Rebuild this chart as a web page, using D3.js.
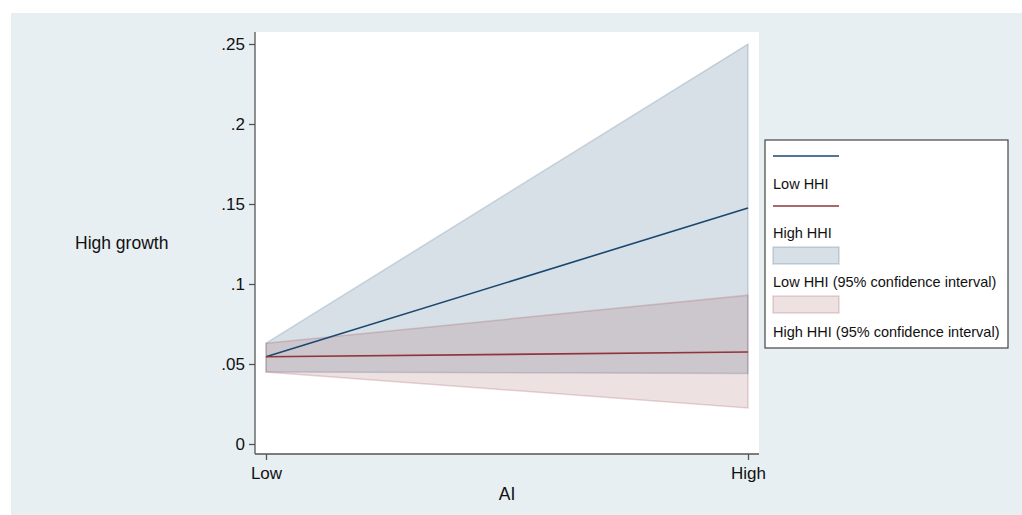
<!DOCTYPE html>
<html>
<head>
<meta charset="utf-8">
<script src="https://cdn.jsdelivr.net/npm/d3@7"></script>
<style>
  body { margin: 0; background: #fff; }
  svg { display: block; font-family: "Liberation Sans", Arial, sans-serif; }
</style>
</head>
<body>
<svg id="chart" width="1022" height="515"></svg>
<script>
// x categories and y ticks
const xLabels = ['Low', 'High'];
const yTicks = [0, 0.05, 0.1, 0.15, 0.2, 0.25];
const yTickLabels = ['0', '.05', '.1', '.15', '.2', '.25'];

// predicted values per HHI group
const lowHHI = [0.0545, 0.1475];
const highHHI = [0.0545, 0.0575];
const lowHHIci = [[0.045, 0.063], [0.0440, 0.250]];
const highHHIci = [[0.045, 0.063], [0.0225, 0.093]];

const legendLabels = ['Low HHI', 'High HHI', 'Low HHI (95% confidence interval)', 'High HHI (95% confidence interval)'];

const blue = '#1a476f';
const red = '#90353b';

const svg = d3.select('#chart');

// outer stata background
svg.append('rect')
  .attr('x', 11).attr('y', 13)
  .attr('width', 1011).attr('height', 502)
  .attr('fill', '#e8eff2');

const plot = { left: 255, right: 759, top: 32, bottom: 454 };

svg.append('rect')
  .attr('x', plot.left).attr('y', plot.top)
  .attr('width', plot.right - plot.left).attr('height', plot.bottom - plot.top)
  .attr('fill', '#fff');

const x = d3.scalePoint()
  .domain(xLabels)
  .range([266, 748]);

const y = d3.scaleLinear()
  .domain([0, 0.25])
  .range([444, 44]);

const area = d3.area()
  .x((d, i) => x(xLabels[i]))
  .y0(d => y(d[0]))
  .y1(d => y(d[1]));

const line = d3.line()
  .x((d, i) => x(xLabels[i]))
  .y(d => y(d));

// confidence bands
svg.append('path')
  .datum(lowHHIci)
  .attr('d', area)
  .attr('fill', blue).attr('fill-opacity', 0.17)
  .attr('stroke', blue).attr('stroke-opacity', 0.18).attr('stroke-width', 1.5);

svg.append('path')
  .datum(highHHIci)
  .attr('d', area)
  .attr('fill', red).attr('fill-opacity', 0.15)
  .attr('stroke', red).attr('stroke-opacity', 0.2).attr('stroke-width', 1.5);

// lines
svg.append('path')
  .datum(lowHHI)
  .attr('d', line)
  .attr('fill', 'none').attr('stroke', blue).attr('stroke-width', 1.6);

svg.append('path')
  .datum(highHHI)
  .attr('d', line)
  .attr('fill', 'none').attr('stroke', red).attr('stroke-width', 1.6);

// axes
const yAxis = svg.append('g')
  .attr('transform', `translate(${plot.left},0)`)
  .call(d3.axisLeft(y).tickValues(yTicks).tickFormat((d, i) => yTickLabels[i]).tickSize(6).tickPadding(4));
yAxis.select('.domain').attr('d', `M0,${plot.top}V${plot.bottom}`);

const xAxis = svg.append('g')
  .attr('transform', `translate(0,${plot.bottom})`)
  .call(d3.axisBottom(x).tickSize(6).tickPadding(7));
xAxis.select('.domain').attr('d', `M${plot.left},0H${plot.right}`);

svg.selectAll('.tick text').attr('font-size', 17).attr('fill', '#111')
  .attr('font-family', '"Liberation Sans", Arial, sans-serif');
svg.selectAll('.domain, .tick line').attr('stroke', '#555').attr('stroke-width', 1.3);

// titles
svg.append('text')
  .attr('x', 507).attr('y', 500)
  .attr('text-anchor', 'middle')
  .attr('font-size', 17.5).attr('fill', '#111')
  .text('AI');

svg.append('text')
  .attr('x', 75).attr('y', 249)
  .attr('font-size', 17.5).attr('fill', '#111')
  .text('High growth');

// legend
const lg = svg.append('g').attr('transform', 'translate(765,140)');
lg.append('rect')
  .attr('width', 243).attr('height', 208)
  .attr('fill', '#fff').attr('stroke', '#444').attr('stroke-width', 1.2);

const keyY = [16, 66, 116, 165];
const textY = [49, 98, 147, 197];

lg.append('line').attr('x1', 8).attr('x2', 74).attr('y1', keyY[0]).attr('y2', keyY[0])
  .attr('stroke', blue).attr('stroke-width', 1.6);
lg.append('line').attr('x1', 8).attr('x2', 74).attr('y1', keyY[1]).attr('y2', keyY[1])
  .attr('stroke', red).attr('stroke-width', 1.6);
lg.append('rect').attr('x', 8).attr('y', keyY[2] - 9).attr('width', 66).attr('height', 17)
  .attr('fill', blue).attr('fill-opacity', 0.17)
  .attr('stroke', blue).attr('stroke-opacity', 0.2).attr('stroke-width', 1.5);
lg.append('rect').attr('x', 8).attr('y', keyY[3] - 9).attr('width', 66).attr('height', 17)
  .attr('fill', red).attr('fill-opacity', 0.15)
  .attr('stroke', red).attr('stroke-opacity', 0.2).attr('stroke-width', 1.5);

lg.selectAll('.lbl')
  .data(legendLabels)
  .enter().append('text')
  .attr('class', 'lbl')
  .attr('x', 8)
  .attr('y', (d, i) => textY[i])
  .attr('font-size', 14.5).attr('fill', '#111')
  .text(d => d);
</script>
</body>
</html>
